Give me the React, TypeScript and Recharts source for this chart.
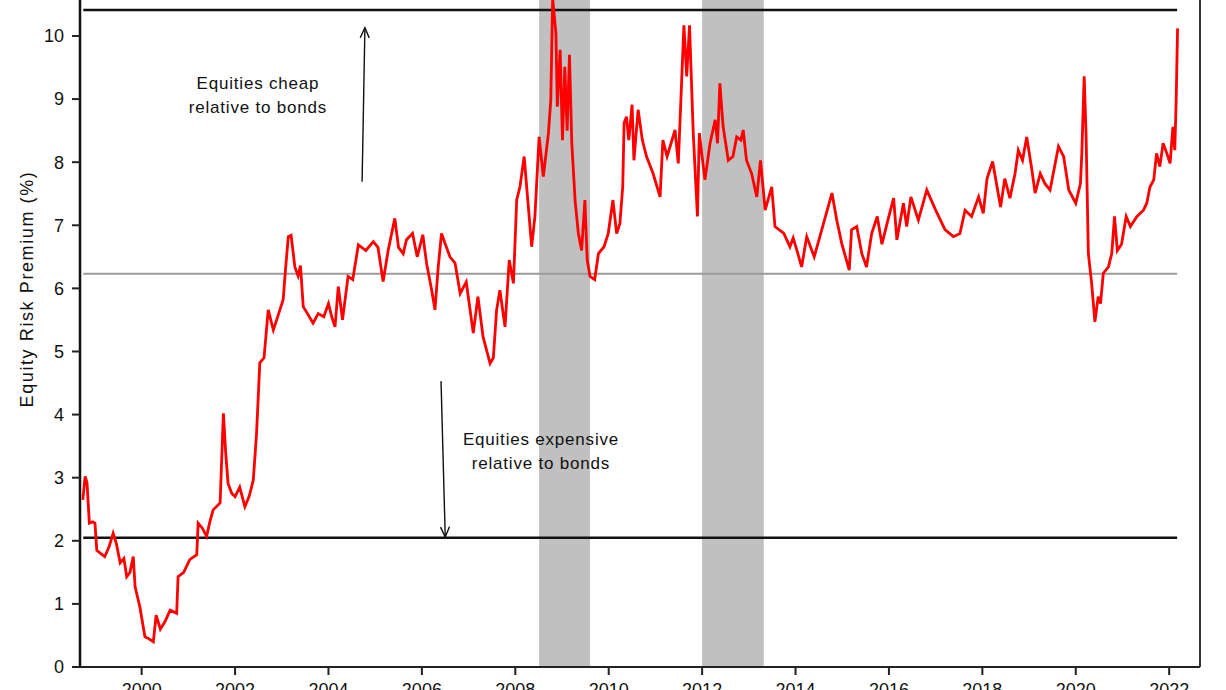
import React from 'react';
import {
  ComposedChart,
  Line,
  XAxis,
  YAxis,
  ReferenceLine,
  ReferenceArea,
  ReferenceDot,
} from 'recharts';

// Decimal years of the equity risk premium observations
const years: number[] = [
  1998.74, 1998.79, 1998.83, 1998.88, 1998.95, 1999.0, 1999.04, 1999.12, 1999.21, 1999.3,
  1999.39, 1999.46, 1999.54, 1999.62, 1999.68, 1999.75, 1999.82, 1999.86, 1999.96, 2000.07,
  2000.15, 2000.25, 2000.31, 2000.4, 2000.5, 2000.61, 2000.75, 2000.78, 2000.9, 2001.03,
  2001.18, 2001.21, 2001.3, 2001.39, 2001.46, 2001.53, 2001.68, 2001.75, 2001.8, 2001.85,
  2001.93, 2002.0, 2002.1, 2002.21, 2002.3, 2002.39, 2002.46, 2002.53, 2002.62, 2002.71,
  2002.82, 2002.96, 2003.03, 2003.08, 2003.14, 2003.2, 2003.28, 2003.35, 2003.4, 2003.46,
  2003.55, 2003.67, 2003.78, 2003.9, 2004.0, 2004.07, 2004.14, 2004.21, 2004.3, 2004.42,
  2004.52, 2004.64, 2004.8, 2004.96, 2005.06, 2005.17, 2005.28, 2005.42, 2005.5, 2005.6,
  2005.67, 2005.8, 2005.9, 2006.02, 2006.1, 2006.21, 2006.28, 2006.35, 2006.42, 2006.6,
  2006.71, 2006.82, 2006.95, 2007.1, 2007.2, 2007.31, 2007.46, 2007.53, 2007.6, 2007.67,
  2007.78, 2007.87, 2007.96, 2008.03, 2008.1, 2008.19, 2008.35, 2008.42, 2008.51, 2008.6,
  2008.71, 2008.76, 2008.8, 2008.87, 2008.9, 2008.96, 2009.01, 2009.06, 2009.11, 2009.16,
  2009.21, 2009.28, 2009.35, 2009.42, 2009.49, 2009.54, 2009.6, 2009.7, 2009.78, 2009.9,
  2009.99, 2010.09, 2010.17, 2010.24, 2010.3, 2010.33, 2010.38, 2010.43, 2010.5, 2010.54,
  2010.63, 2010.72, 2010.81, 2010.95, 2011.1, 2011.16, 2011.25, 2011.42, 2011.49, 2011.56,
  2011.61, 2011.67, 2011.73, 2011.81, 2011.9, 2011.94, 2012.06, 2012.17, 2012.28, 2012.33,
  2012.38, 2012.45, 2012.56, 2012.66, 2012.74, 2012.83, 2012.88, 2012.95, 2013.06, 2013.17,
  2013.25, 2013.35, 2013.49, 2013.56, 2013.75, 2013.88, 2013.95, 2014.05, 2014.13, 2014.24,
  2014.4, 2014.6, 2014.78, 2014.88, 2014.99, 2015.15, 2015.2, 2015.31, 2015.42, 2015.52,
  2015.63, 2015.75, 2015.85, 2015.96, 2016.1, 2016.17, 2016.31, 2016.38, 2016.47, 2016.63,
  2016.81, 2017.0, 2017.2, 2017.38, 2017.52, 2017.63, 2017.77, 2017.92, 2018.02, 2018.1,
  2018.22, 2018.39, 2018.48, 2018.59, 2018.7, 2018.77, 2018.86, 2018.95, 2019.06, 2019.13,
  2019.24, 2019.34, 2019.45, 2019.63, 2019.74, 2019.85, 2020.0, 2020.1, 2020.13, 2020.18,
  2020.22, 2020.27, 2020.34, 2020.41, 2020.48, 2020.53, 2020.59, 2020.7, 2020.77, 2020.83,
  2020.89, 2020.98, 2021.08, 2021.17, 2021.31, 2021.45, 2021.52, 2021.59, 2021.67, 2021.73,
  2021.8, 2021.87, 2021.95, 2022.02, 2022.08, 2022.12, 2022.15, 2022.18,
];

// Equity risk premium (%)
const erp: number[] = [
  2.65, 3.02, 2.92, 2.28, 2.3, 2.28, 1.85, 1.8, 1.75, 1.9,
  2.12, 1.95, 1.65, 1.72, 1.43, 1.5, 1.75, 1.27, 0.96, 0.48,
  0.45, 0.4, 0.82, 0.6, 0.72, 0.9, 0.85, 1.43, 1.5, 1.7,
  1.78, 2.28, 2.2, 2.07, 2.3, 2.49, 2.6, 4.02, 3.39, 2.91,
  2.75, 2.7, 2.85, 2.54, 2.7, 2.96, 3.7, 4.82, 4.9, 5.66,
  5.34, 5.66, 5.82, 6.3, 6.82, 6.84, 6.34, 6.2, 6.36, 5.71,
  5.6, 5.45, 5.6, 5.55, 5.76, 5.55, 5.39, 6.03, 5.5, 6.19,
  6.14, 6.69, 6.6, 6.74, 6.65, 6.11, 6.61, 7.11, 6.65, 6.55,
  6.77, 6.87, 6.5, 6.85, 6.4, 5.97, 5.66, 6.34, 6.87, 6.5,
  6.4, 5.92, 6.1, 5.29, 5.87, 5.23, 4.81, 4.9, 5.66, 5.97,
  5.39, 6.45, 6.08, 7.4, 7.61, 8.09, 6.66, 7.14, 8.4, 7.77,
  8.46, 8.99, 10.6, 10.04, 8.88, 9.78, 8.35, 9.51, 8.5, 9.7,
  8.3, 7.4, 6.87, 6.6, 7.4, 6.45, 6.19, 6.14, 6.55, 6.66,
  6.87, 7.4, 6.87, 7.03, 7.61, 8.62, 8.72, 8.35, 8.91, 8.03,
  8.83, 8.35, 8.09, 7.82, 7.45, 8.35, 8.09, 8.51, 7.98, 9.25,
  10.17, 9.36, 10.17, 8.46, 7.14, 8.46, 7.72, 8.3, 8.67, 8.3,
  9.25, 8.56, 8.03, 8.09, 8.4, 8.35, 8.51, 8.03, 7.82, 7.45,
  8.03, 7.24, 7.61, 6.98, 6.87, 6.66, 6.8, 6.55, 6.34, 6.82,
  6.5, 7.03, 7.51, 7.09, 6.71, 6.29, 6.93, 6.98, 6.55, 6.34,
  6.87, 7.14, 6.7, 7.03, 7.43, 6.77, 7.35, 6.98, 7.45, 7.08,
  7.56, 7.24, 6.93, 6.82, 6.87, 7.24, 7.14, 7.45, 7.19, 7.74,
  8.01, 7.29, 7.74, 7.43, 7.82, 8.19, 8.03, 8.4, 7.88, 7.51,
  7.82, 7.66, 7.56, 8.25, 8.09, 7.56, 7.35, 7.66, 8.14, 9.36,
  8.46, 6.55, 6.08, 5.47, 5.87, 5.76, 6.24, 6.34, 6.55, 7.14,
  6.6, 6.7, 7.14, 6.98, 7.14, 7.24, 7.35, 7.61, 7.72, 8.14,
  7.93, 8.3, 8.14, 7.98, 8.56, 8.19, 8.99, 10.12,
];

const xTicks: number[] = [2000, 2002, 2004, 2006, 2008, 2010, 2012, 2014, 2016, 2018, 2020, 2022];
const yTicks: number[] = [0, 1, 2, 3, 4, 5, 6, 7, 8, 9, 10];

// Shaded periods (decimal years)
const shadeStart: number[] = [2008.51, 2012.0];
const shadeEnd: number[] = [2009.6, 2013.32];

// Horizontal levels: mean and +/- 2 standard deviations
const meanLevel = 6.23;
const upperLevel = 10.41;
const lowerLevel = 2.05;
const levelStart = 1998.75;
const levelEnd = 2022.17;

const data = years.map((y, i) => ({ year: y, erp: erp[i] }));

const FONT = '"Liberation Sans", Arial, sans-serif';

const Arrow = (props: any) => {
  const { x1, y1, x2, y2 } = props;
  if ([x1, y1, x2, y2].some((v) => typeof v !== 'number' || isNaN(v))) return null;
  const ang = Math.atan2(y2 - y1, x2 - x1);
  const len = 11;
  const spread = 0.42;
  const ax = x2 - len * Math.cos(ang - spread);
  const ay = y2 - len * Math.sin(ang - spread);
  const bx = x2 - len * Math.cos(ang + spread);
  const by = y2 - len * Math.sin(ang + spread);
  return (
    <g>
      <line x1={x1} y1={y1} x2={x2} y2={y2} stroke="#111" strokeWidth={1.4} />
      <polyline points={`${ax},${ay} ${x2},${y2} ${bx},${by}`} fill="none" stroke="#111" strokeWidth={1.4} />
    </g>
  );
};

const makeNote = (lines: string[]) => (props: any) => {
  const { cx, cy } = props;
  return (
    <text
      x={cx}
      y={cy - 6}
      textAnchor="middle"
      fontFamily={FONT}
      fontSize={17}
      letterSpacing={0.8}
      fill="#111"
    >
      {lines.map((l, i) => (
        <tspan key={i} x={cx} dy={i === 0 ? 0 : 24}>
          {l}
        </tspan>
      ))}
    </text>
  );
};

const YLabel = () => (
  <text
    x={0}
    y={0}
    transform="translate(27,289) rotate(-90)"
    textAnchor="middle"
    dominantBaseline="central"
    fontFamily={FONT}
    fontSize={18}
    letterSpacing={1.6}
    fill="#111"
  >
    Equity Risk Premium (%)
  </text>
);

export default function App() {
  return (
    <div style={{ position: 'absolute', left: 0, top: 0, width: 1226, height: 690, background: '#fff' }}>
      <ComposedChart
        width={1226}
        height={690}
        data={data}
        margin={{ top: 0, right: 0, bottom: 0, left: 0 }}
      >
        <XAxis
          dataKey="year"
          type="number"
          domain={[1998.68, 2022.66]}
          allowDataOverflow
          ticks={xTicks}
          height={23}
          tickSize={8}
          tickMargin={8}
          axisLine={{ stroke: '#222', strokeWidth: 2 }}
          tickLine={{ stroke: '#222', strokeWidth: 2 }}
          tick={{ fill: '#111', fontSize: 18, fontFamily: FONT }}
          interval={0}
        />
        <YAxis
          type="number"
          domain={[0, 10.57]}
          allowDataOverflow
          ticks={yTicks}
          width={80}
          tickSize={8}
          tickMargin={8}
          axisLine={{ stroke: '#111', strokeWidth: 2.5 }}
          tickLine={{ stroke: '#222', strokeWidth: 2 }}
          tick={{ fill: '#111', fontSize: 18, fontFamily: FONT }}
          interval={0}
          label={<YLabel />}
        />
        <YAxis
          yAxisId="right"
          orientation="right"
          type="number"
          domain={[0, 10.57]}
          width={26}
          tick={false}
          tickLine={false}
          axisLine={{ stroke: '#333', strokeWidth: 2 }}
        />
        {shadeStart.map((s, i) => (
          <ReferenceArea key={i} x1={s} x2={shadeEnd[i]} fill="#c0c0c0" fillOpacity={1} stroke="none" />
        ))}
        <ReferenceLine
          segment={[{ x: levelStart, y: meanLevel }, { x: levelEnd, y: meanLevel }]}
          stroke="#9a9a9a"
          strokeWidth={2}
        />
        <ReferenceLine
          segment={[{ x: levelStart, y: upperLevel }, { x: levelEnd, y: upperLevel }]}
          stroke="#111"
          strokeWidth={2.5}
        />
        <ReferenceLine
          segment={[{ x: levelStart, y: lowerLevel }, { x: levelEnd, y: lowerLevel }]}
          stroke="#111"
          strokeWidth={2.5}
        />
        <ReferenceLine
          segment={[{ x: 2004.72, y: 7.69 }, { x: 2004.78, y: 10.13 }]}
          shape={Arrow}
        />
        <ReferenceLine
          segment={[{ x: 2006.41, y: 4.53 }, { x: 2006.5, y: 2.06 }]}
          shape={Arrow}
        />
        <ReferenceDot x={2002.49} y={9.065} r={1} shape={makeNote(['Equities cheap', 'relative to bonds'])} />
        <ReferenceDot x={2008.55} y={3.42} r={1} shape={makeNote(['Equities expensive', 'relative to bonds'])} />
        <Line
          type="linear"
          dataKey="erp"
          stroke="#ff0000"
          strokeWidth={2.8}
          dot={false}
          isAnimationActive={false}
        />
      </ComposedChart>
    </div>
  );
}
